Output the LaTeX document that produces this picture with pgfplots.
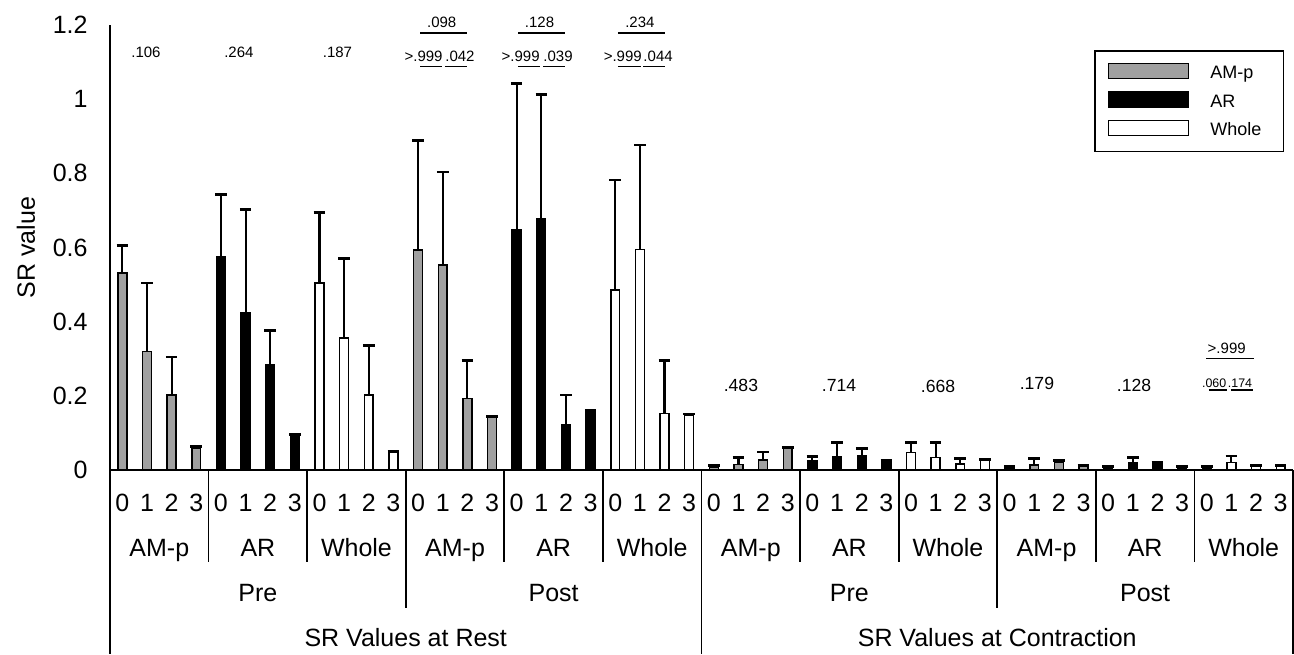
\documentclass[border=0pt]{standalone}
\usepackage{fontspec}
\setmainfont{Liberation Sans}
\usepackage{pgfplots}
\pgfplotsset{compat=1.18}
\usepackage{pgfplotstable}

\definecolor{ampgray}{RGB}{160,160,160}

% x = category slot (0..47), y = mean SR value, ey = upper error
\pgfplotstableread{
x y ey
0 0.531 0.075
1 0.320 0.184
2 0.202 0.103
3 0.059 0.004
12 0.593 0.295
13 0.553 0.251
14 0.193 0.102
15 0.142 0.003
24 0.008 0.004
25 0.015 0.019
26 0.027 0.022
27 0.058 0.002
36 0.006 0.003
37 0.013 0.018
38 0.022 0.003
39 0.009 0.003
}\amp

\pgfplotstableread{
x y ey
4 0.575 0.168
5 0.423 0.280
6 0.283 0.094
7 0.092 0.003
16 0.649 0.393
17 0.677 0.336
18 0.121 0.081
19 0.159 0.002
28 0.024 0.012
29 0.036 0.038
30 0.038 0.020
31 0.024 0.003
40 0.006 0.003
41 0.020 0.014
42 0.018 0.002
43 0.006 0.003
}\ar

\pgfplotstableread{
x y ey
8 0.504 0.191
9 0.356 0.215
10 0.202 0.133
11 0.047 0.003
20 0.485 0.297
21 0.595 0.281
22 0.153 0.142
23 0.148 0.003
32 0.047 0.027
33 0.034 0.040
34 0.016 0.015
35 0.027 0.002
44 0.006 0.003
45 0.020 0.018
46 0.009 0.003
47 0.009 0.003
}\whole

\tikzset{
  pv/.style={font=\fontsize{7.5}{9}\selectfont, inner sep=0pt},
  pvs/.style={font=\fontsize{6.2}{7}\selectfont, inner sep=0pt},
  pvb/.style={font=\fontsize{8.8}{10}\selectfont, inner sep=0pt},
  ann/.style={line width=0.7pt},
  sep/.style={line width=0.9pt},
  lab/.style={font=\fontsize{12.5}{15}\selectfont, inner sep=0pt, anchor=base},
}
\pgfplotsset{
  sw/.style={legend image code/.code={\draw[##1, line width=0.75pt] (0pt,-3.75pt) rectangle (40pt,3.75pt);}},
  bars/.style={draw=black, line width=0.75pt, bar shift=0pt, sw,
    error bars/.cd, y dir=plus, y explicit,
    error mark=|,
    error bar style={line width=1.05pt, black},
    error mark options={line width=1.3pt, mark size=2.9pt, black}},
}

\begin{document}
\begin{tikzpicture}
\useasboundingbox (-55pt,-92pt) rectangle (592pt,235pt);
\begin{axis}[
  at={(0pt,0pt)}, anchor=south west,
  scale only axis, width=591.5pt, height=222.5pt,
  xmin=-0.5, xmax=47.5, ymin=0, ymax=1.2,
  axis lines=left, axis line style={-, line width=1pt},
  major tick length=0pt,
  ytick={0,0.2,0.4,0.6,0.8,1,1.2},
  yticklabels={0,0.2,0.4,0.6,0.8,1,1.2},
  xtick={0,...,47},
  xticklabels={0,1,2,3,0,1,2,3,0,1,2,3,0,1,2,3,0,1,2,3,0,1,2,3,
               0,1,2,3,0,1,2,3,0,1,2,3,0,1,2,3,0,1,2,3,0,1,2,3},
  /pgf/number format/assume math mode=true,
  tick label style={font=\fontsize{12.5}{15}\selectfont},
  yticklabel style={anchor=east, inner sep=0pt, xshift=-11pt},
  xticklabel style={anchor=base, inner sep=0pt, yshift=-20.5pt},
  ybar, bar width=0.36,
  clip=false,
  legend style={
    at={(0.9924,0.9438)}, anchor=north east,
    draw=black, line width=0.75pt,
    font=\fontsize{9}{10.8}\selectfont,
    inner xsep=6.5pt, inner ysep=6pt,
    row sep=4.4pt, column sep=10.5pt,
    nodes={inner sep=0pt, text height=6.5pt, text depth=2pt, text width=30pt,
      align=left, xshift=6.5pt, yshift=-1.5pt},
  },
  legend cell align=left,
]
\addplot[fill=ampgray, bars] table[x=x, y=y, y error=ey] {\amp};
\addplot[fill=black, bars] table[x=x, y=y, y error=ey] {\ar};
\addplot[fill=white, bars] table[x=x, y=y, y error=ey] {\whole};
\legend{AM-p, AR, Whole}

% p values, rest / pre
\node[pv] at (axis cs:0.96,1.127) {.106};
\node[pv] at (axis cs:4.73,1.127) {.264};
\node[pv] at (axis cs:8.73,1.127) {.187};

% p values, rest / post
\node[pv] at (axis cs:12.96,1.206) {.098};
\draw[ann] (axis cs:12.08,1.178) -- (axis cs:13.99,1.178);
\node[pv, anchor=east] at (axis cs:13.01,1.115) {>.999};
\node[pv, anchor=west] at (axis cs:13.09,1.115) {.042};
\draw[ann] (axis cs:12.08,1.088) -- (axis cs:12.97,1.088);
\draw[ann] (axis cs:13.09,1.088) -- (axis cs:13.99,1.088);

\node[pv] at (axis cs:16.93,1.206) {.128};
\draw[ann] (axis cs:16.07,1.178) -- (axis cs:17.96,1.178);
\node[pv, anchor=east] at (axis cs:16.95,1.115) {>.999};
\node[pv, anchor=west] at (axis cs:17.07,1.115) {.039};
\draw[ann] (axis cs:16.05,1.088) -- (axis cs:16.95,1.088);
\draw[ann] (axis cs:17.07,1.088) -- (axis cs:17.96,1.088);

\node[pv] at (axis cs:21.0,1.206) {.234};
\draw[ann] (axis cs:20.11,1.178) -- (axis cs:22.0,1.178);
\node[pv, anchor=east] at (axis cs:21.09,1.115) {>.999};
\node[pv, anchor=west] at (axis cs:21.13,1.115) {.044};
\draw[ann] (axis cs:20.11,1.088) -- (axis cs:21.05,1.088);
\draw[ann] (axis cs:21.13,1.088) -- (axis cs:22.0,1.088);

% p values, contraction
\node[pvb] at (axis cs:25.1,0.229) {.483};
\node[pvb] at (axis cs:29.08,0.229) {.714};
\node[pvb] at (axis cs:33.1,0.2265) {.668};
\node[pvb] at (axis cs:37.11,0.234) {.179};
\node[pvb] at (axis cs:41.05,0.229) {.128};

\node[pv] at (axis cs:44.81,0.329) {>.999};
\draw[ann] (axis cs:43.97,0.301) -- (axis cs:45.92,0.301);
\node[pvs] at (axis cs:44.3,0.2346) {.060};
\node[pvs] at (axis cs:45.35,0.2346) {.174};
\draw[ann] (axis cs:44.09,0.2157) -- (axis cs:44.82,0.2157);
\draw[ann] (axis cs:44.97,0.2157) -- (axis cs:45.86,0.2157);

% category separators below the axis
\draw[sep] (axis cs:-0.5,0) -- (axis cs:-0.5,-0.4962);
\draw[sep] (axis cs:23.5,0) -- (axis cs:23.5,-0.4962);
\draw[sep] (axis cs:47.5,0) -- (axis cs:47.5,-0.4962);
\draw[sep] (axis cs:11.5,0) -- (axis cs:11.5,-0.3711);
\draw[sep] (axis cs:35.5,0) -- (axis cs:35.5,-0.3711);
\draw[sep] (axis cs:3.5,0) -- (axis cs:3.5,-0.247);
\draw[sep] (axis cs:7.5,0) -- (axis cs:7.5,-0.247);
\draw[sep] (axis cs:15.5,0) -- (axis cs:15.5,-0.247);
\draw[sep] (axis cs:19.5,0) -- (axis cs:19.5,-0.247);
\draw[sep] (axis cs:27.5,0) -- (axis cs:27.5,-0.247);
\draw[sep] (axis cs:31.5,0) -- (axis cs:31.5,-0.247);
\draw[sep] (axis cs:39.5,0) -- (axis cs:39.5,-0.247);
\draw[sep] (axis cs:43.5,0) -- (axis cs:43.5,-0.247);

% group labels
\node[lab, yshift=-43.3pt] at (axis cs:1.5,0) {AM-p};
\node[lab, yshift=-43.3pt] at (axis cs:5.5,0) {AR};
\node[lab, yshift=-43.3pt] at (axis cs:9.5,0) {Whole};
\node[lab, yshift=-43.3pt] at (axis cs:13.5,0) {AM-p};
\node[lab, yshift=-43.3pt] at (axis cs:17.5,0) {AR};
\node[lab, yshift=-43.3pt] at (axis cs:21.5,0) {Whole};
\node[lab, yshift=-43.3pt] at (axis cs:25.5,0) {AM-p};
\node[lab, yshift=-43.3pt] at (axis cs:29.5,0) {AR};
\node[lab, yshift=-43.3pt] at (axis cs:33.5,0) {Whole};
\node[lab, yshift=-43.3pt] at (axis cs:37.5,0) {AM-p};
\node[lab, yshift=-43.3pt] at (axis cs:41.5,0) {AR};
\node[lab, yshift=-43.3pt] at (axis cs:45.5,0) {Whole};

\node[lab, yshift=-65.8pt] at (axis cs:5.5,0) {Pre};
\node[lab, yshift=-65.8pt] at (axis cs:17.5,0) {Post};
\node[lab, yshift=-65.8pt] at (axis cs:29.5,0) {Pre};
\node[lab, yshift=-65.8pt] at (axis cs:41.5,0) {Post};

\node[lab, yshift=-88.3pt] at (axis cs:11.5,0) {SR Values at Rest};
\node[lab, yshift=-88.3pt] at (axis cs:35.5,0) {SR Values at Contraction};
\end{axis}
\node[rotate=90, anchor=base, inner sep=0pt, font=\fontsize{12.5}{15}\selectfont] at (-37.5pt,111.25pt) {SR value};
\end{tikzpicture}
\end{document}
